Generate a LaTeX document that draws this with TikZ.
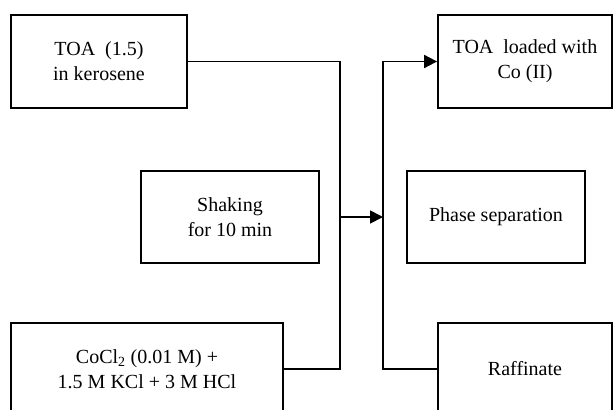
\documentclass[tikz,border=0pt]{standalone}
\usepackage{fontspec}
\setmainfont{Liberation Serif}
\usetikzlibrary{arrows.meta}
\begin{document}
\begin{tikzpicture}[x=1pt,y=-1pt,
  box/.style={draw=black,line width=1.8pt,fill=white,inner sep=0pt,align=center,
    font=\fontsize{20}{25}\selectfont},
  conn/.style={draw=black,line width=1.8pt},
  arr/.style={conn,-{Triangle[length=13pt,width=13pt]}}]
\useasboundingbox (0,0) rectangle (614,410);
\clip (0,0) rectangle (614,410);
\node[box,minimum width=176pt,minimum height=93pt] (toa) at (99,61.5) {TOA~ (1.5)\\in kerosene};
\node[box,minimum width=174pt,minimum height=93pt] (load) at (525,61.5) {TOA~ loaded with\\Co (II)};
\node[box,minimum width=178pt,minimum height=92pt] (shake) at (230,217) {Shaking\\for 10 min};
\node[box,minimum width=178pt,minimum height=92pt] (phase) at (496,217) {Phase separation};
\node[box,minimum width=272pt,minimum height=92pt] (cocl) at (147,369) {CoCl\textsubscript{2} (0.01 M) +\\1.5 M KCl + 3 M HCl};
\node[box,minimum width=174pt,minimum height=92pt] (raff) at (525,369) {Raffinate};
\coordinate (j1) at (340,61.5);
\coordinate (j2) at (340,369);
\coordinate (m1) at (340,217);
\coordinate (k1) at (383,61.5);
\coordinate (k2) at (383,369);
\coordinate (m2) at (383,217);
\draw[conn] (toa.east) -- (j1) -- (j2) -- (cocl.east);
\draw[arr] (m1) -- (m2);
\draw[arr] (raff.west) -- (k2) -- (k1) -- (load.west);
\end{tikzpicture}
\end{document}
